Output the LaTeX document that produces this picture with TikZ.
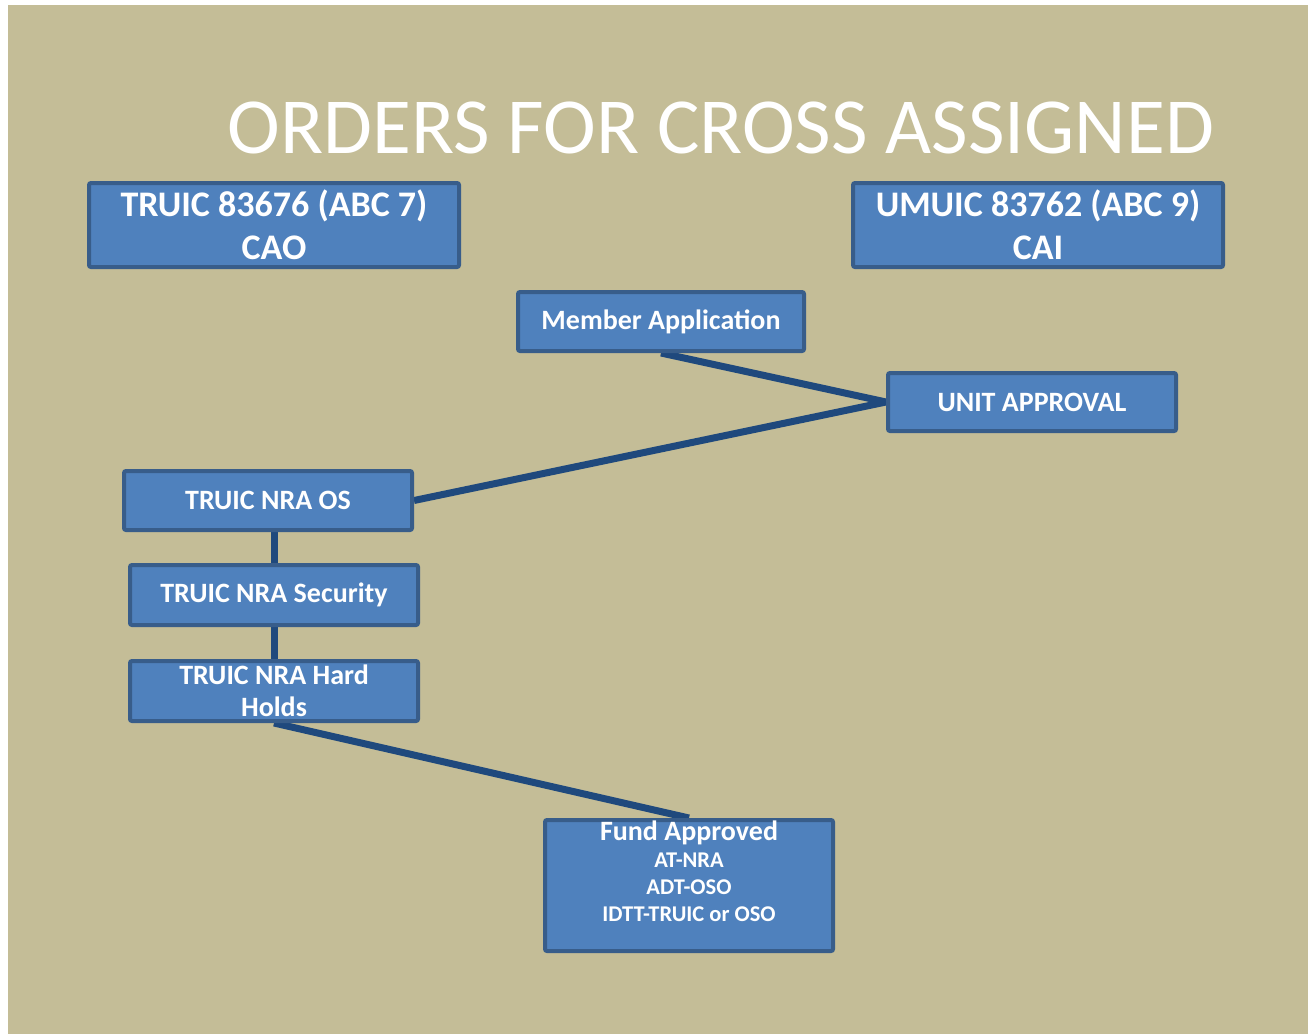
\documentclass[tikz,border=0pt]{standalone}
\usepackage{fontspec}
\setmainfont{Carlito}
\definecolor{tanbg}{HTML}{C4BD97}
\definecolor{boxfill}{HTML}{4F81BD}
\definecolor{boxline}{HTML}{385D8A}
\definecolor{connline}{HTML}{1F497D}
\pgfdeclarelayer{bg}
\pgfdeclarelayer{conn}
\pgfsetlayers{bg,conn,main}
\tikzset{
  blockbox/.style={draw=boxline, fill=boxfill, line width=4pt, rounded corners=2pt,
    text=white, font=\bfseries\fontsize{28}{32}\selectfont, align=center, inner sep=0pt},
  bigbox/.style={blockbox, minimum width=370pt, minimum height=84pt,
    font=\bfseries\fontsize{36}{43}\selectfont},
  conn/.style={draw=connline, line width=7pt}
}
\begin{document}
\begin{tikzpicture}[x=1pt,y=-1pt]
\useasboundingbox (0,0) rectangle (1308,1034);
\begin{pgfonlayer}{bg}
  \fill[white] (0,0) rectangle (1308,1034);
  \fill[tanbg] (8,5) rectangle (1308,1034);
\end{pgfonlayer}

\node[text=white, font=\fontsize{79.5}{85}\selectfont, inner sep=0pt] (title) at (721,128) {ORDERS FOR CROSS ASSIGNED};

\node[bigbox] (tr) at (274,225) {TRUIC 83676 (ABC 7)\\CAO};
\node[bigbox] (um) at (1038,225) {UMUIC 83762 (ABC 9)\\CAI};

\node[blockbox, minimum width=286pt, minimum height=59pt] (ma) at (661,321.5) {Member Application};
\node[blockbox, minimum width=288pt, minimum height=58pt] (ua) at (1032,402) {UNIT APPROVAL};
\node[blockbox, minimum width=288pt, minimum height=59pt] (os) at (268,500.5) {TRUIC NRA OS};
\node[blockbox, minimum width=288pt, minimum height=60pt] (sec) at (274,595) {TRUIC NRA Security};
\node[blockbox, minimum width=288pt, minimum height=60pt] (hh) at (274,691) {TRUIC NRA Hard\\Holds};
\node[blockbox, minimum width=288pt, minimum height=131pt, font=\bfseries\fontsize{22.5}{27}\selectfont, text depth=28pt] (fa) at (689,885.5)
  {{\fontsize{28}{27}\selectfont Fund Approved}\\AT-NRA\\ADT-OSO\\IDTT-TRUIC or OSO};

\begin{pgfonlayer}{conn}
  \draw[conn] (ma.south) -- (ua.west);
  \draw[conn] (ua.west) -- (os.east);
  \draw[conn] (sec.north |- os.south) -- (sec.north);
  \draw[conn] (sec.south) -- (hh.north);
  \draw[conn] (hh.south) -- (fa.north);
\end{pgfonlayer}
\end{tikzpicture}
\end{document}
